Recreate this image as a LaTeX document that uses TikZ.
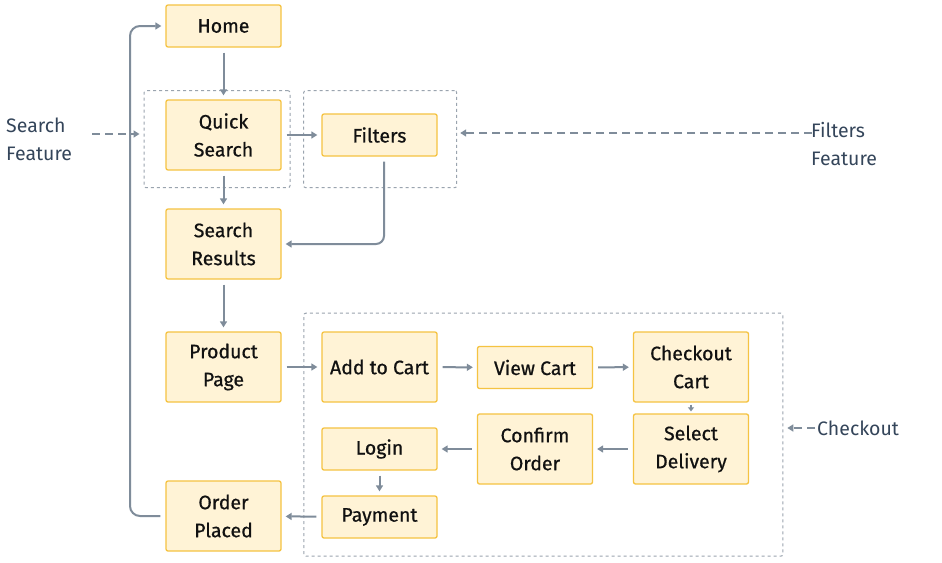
\documentclass[tikz,border=0pt]{standalone}
\usepackage{fontspec}
\setmainfont{Fira Sans}
\newfontfamily\medfont{Fira Sans}[FakeBold=0.7]
\usetikzlibrary{arrows.meta}
\definecolor{boxfill}{HTML}{FFF3D6}
\definecolor{boxborder}{HTML}{F5C342}
\definecolor{linec}{HTML}{7F8C9A}
\definecolor{grpc}{HTML}{9AA4AF}
\definecolor{textc}{HTML}{111111}
\definecolor{labc}{HTML}{34455A}
\newcommand{\bfnt}{\fontsize{19.5pt}{28pt}\selectfont\medfont}
\tikzset{
  box/.style={draw=boxborder, fill=boxfill, line width=1.3pt, rounded corners=2pt,
    minimum width=115pt, minimum height=42pt, align=center, inner sep=0pt,
    font=\bfnt, text=textc},
  tall/.style={minimum height=70pt},
  grp/.style={draw=grpc, line width=1pt, dash pattern=on 3pt off 3pt, rounded corners=2pt, inner sep=0pt},
  conn/.style={draw=linec, line width=2pt, -{Triangle[length=6pt,width=7pt]}, shorten >=4pt, shorten <=5pt},
  feat/.style={draw=linec, line width=2pt, dash pattern=on 8pt off 5pt, -{Triangle[length=6pt,width=7pt]}},
  lab/.style={font=\fontsize{19.5pt}{28pt}\selectfont, text=labc, align=left, anchor=west, inner sep=0pt}
}
\begin{document}
\begin{tikzpicture}[x=1pt,y=-1pt]
\path[use as bounding box, fill=white] (0,0) rectangle (942,562);
% groups
\node[grp, minimum width=146pt, minimum height=97pt] (gq) at (217,139.2) {};
\node[grp, minimum width=153pt, minimum height=97pt] (gf) at (380.2,139.2) {};
\node[grp, minimum width=479pt, minimum height=243pt] (gc) at (543.3,434.7) {};
% nodes
\node[box] (home) at (223.5,26) {Home};
\node[box,tall] (qs) at (223.5,135) {Quick\\Search};
\node[box] (filt) at (379.5,135) {Filters};
\node[box,tall] (sr) at (223.5,244) {Search\\Results};
\node[box,tall] (pp) at (223.5,367) {Product\\Page};
\node[box,tall] (op) at (223.5,516) {Order\\Placed};
\node[box,tall] (ac) at (379.5,367) {Add to Cart};
\node[box] (vc) at (535,367.5) {View Cart};
\node[box,tall] (cc) at (691,367) {Checkout\\Cart};
\node[box,tall] (sd) at (691,449) {Select\\Delivery};
\node[box,tall] (co) at (535,449) {Confirm\\Order};
\node[box] (login) at (379.5,449) {Login};
\node[box] (pay) at (379.5,517) {Payment};
% labels
\node[lab] (lsf) at (6,139.5) {Search\\Feature};
\node[lab] (lff) at (811,144.5) {Filters\\Feature};
\node[lab] (lco) at (817,428) {Checkout};
\coordinate (sfs) at (92,134);
\coordinate (ffs) at (812,133);
\coordinate (cos) at (815,428);
% connectors
\draw[conn] (home) -- (qs);
\draw[conn] (qs) -- (sr);
\draw[conn] (qs) -- (filt);
\draw[conn, rounded corners=8pt] (filt.south -| 384,0) -- (384,244) -- (sr.east);
\draw[conn] (sr) -- (pp);
\draw[conn] (pp) -- (ac);
\draw[conn] (ac) -- (vc);
\draw[conn] (vc) -- (cc);
\draw[conn, shorten <=2pt, shorten >=2pt, -{Triangle[length=4pt,width=6pt]}] (cc) -- (sd);
\draw[conn] (sd) -- (co);
\draw[conn] (co) -- (login);
\draw[conn] (login) -- (pay);
\draw[conn] (pay) -- (op);
\draw[conn, rounded corners=10pt] (op.west) -- (130,516) -- (130,26) -- (home.west);
% feature arrows
\draw[feat, shorten >=4pt] (sfs) -- (sfs -| gq.west);
\draw[feat, shorten >=3pt] (ffs) -- (ffs -| gf.east);
\draw[feat, shorten >=4pt] (cos) -- (cos -| gc.east);
\end{tikzpicture}
\end{document}
